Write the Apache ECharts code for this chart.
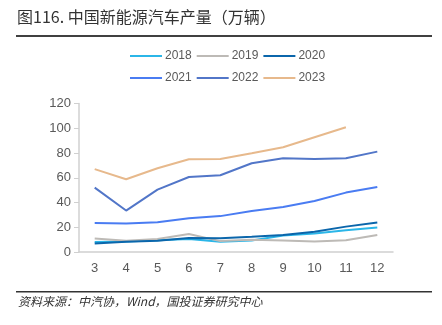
<!DOCTYPE html>
<html><head><meta charset="utf-8">
<script src="https://cdn.jsdelivr.net/npm/echarts@6/dist/echarts.min.js"></script>
<style>html,body{margin:0;padding:0;background:#fff}#c{width:442px;height:325px}</style>
</head><body><div id="c"></div>
<script>
const months = ['3','4','5','6','7','8','9','10','11','12'];
const yTicks = [0,20,40,60,80,100,120];
const s2018 = [8, 8.5, 9.5, 10.5, 8.3, 9.3, 13.3, 15, 17.5, 19.7];
const s2019 = [11, 9, 10.5, 14.6, 8.8, 9.8, 9.3, 8.5, 9.5, 13.8];
const s2020 = [6.8, 8.3, 9, 11.3, 11.2, 12.4, 13.7, 16.4, 20.5, 23.8];
const s2021 = [23.4, 23, 24, 27.2, 29, 33.2, 36.4, 41.2, 48, 52.6];
const s2022 = [52, 33.5, 50.4, 60.6, 62, 71.7, 75.7, 75.2, 75.7, 81.1];
const s2023 = [67, 58.8, 67.7, 75, 75.2, 79.8, 84.6, 92.7, 100.8, null];
const names = ['2018','2019','2020','2021','2022','2023'];
const colors = ['#2bb6e8','#bdbab6','#0b66ab','#4a7cf2','#5276c8','#e7b98c'];
const datas = [s2018,s2019,s2020,s2021,s2022,s2023];

const chart = echarts.init(document.getElementById('c'), null, {renderer:'canvas'});
const legendBase = {
  icon:'rect', itemWidth:32, itemHeight:2, itemGap:5, left:125,
  textStyle:{fontSize:12, color:'#595959', fontFamily:'Liberation Sans, Arial', padding:[0,0,0,-2]}
};
chart.setOption({
  animation:false,
  graphic:[
    {type:'text', left:17, top:9, style:{text:'图116. 中国新能源汽车产量（万辆）', fontSize:16, fill:'#333', fontFamily:'Noto Sans CJK SC'}},
    {type:'rect', shape:{x:16, y:35, width:416, height:2}, style:{fill:'#404040'}},
    {type:'rect', shape:{x:16, y:291, width:416, height:1.5}, style:{fill:'#333'}},
    {type:'text', left:18, top:295, style:{text:'资料来源：中汽协，Wind，国投证券研究中心', fontSize:12, fontStyle:'italic', fill:'#333', fontFamily:'Noto Sans CJK SC'}}
  ],
  legend:[
    Object.assign({}, legendBase, {top:45, data:names.slice(0,3)}),
    Object.assign({}, legendBase, {top:67, data:names.slice(3)})
  ],
  grid:{left:79, right:49, top:103.5, bottom:73},
  xAxis:{type:'category', data:months,
    axisLine:{lineStyle:{color:'#d0d0d0', width:1.5}},
    axisTick:{length:5, lineStyle:{color:'#d0d0d0'}},
    axisLabel:{fontSize:13, color:'#595959', margin:10, fontFamily:'Liberation Sans, Arial'}},
  yAxis:{type:'value', min:yTicks[0], max:yTicks[yTicks.length-1], interval:20,
    axisLine:{show:true, lineStyle:{color:'#d0d0d0', width:1.5}},
    axisTick:{show:true, length:5, lineStyle:{color:'#d0d0d0'}},
    splitLine:{show:false},
    axisLabel:{fontSize:13, color:'#595959', margin:8, fontFamily:'Liberation Sans, Arial'}},
  series: names.map((n,i)=>({
    name:n, type:'line', data:datas[i], symbol:'none', smooth:false,
    lineStyle:{width:2, color:colors[i]}, itemStyle:{color:colors[i]}
  }))
});
</script></body></html>
